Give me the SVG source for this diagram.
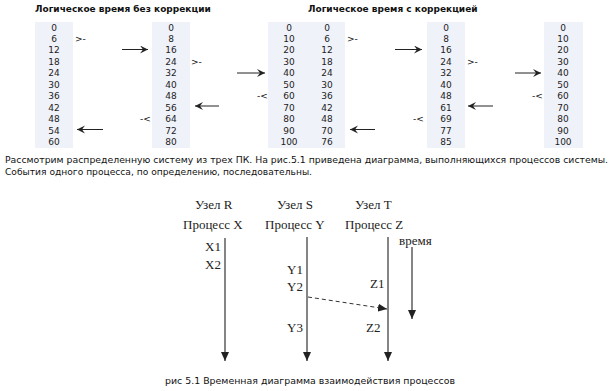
<svg xmlns="http://www.w3.org/2000/svg" width="615" height="391" viewBox="0 0 615 391">
<style>
.t{font-family:"DejaVu Sans",Verdana,sans-serif;font-size:9px;fill:#111}
.b{font-weight:bold}
.n{font-family:"DejaVu Sans",Verdana,sans-serif;font-size:9px;fill:#222;text-anchor:middle}
.m{font-family:"DejaVu Sans",Verdana,sans-serif;font-size:9px;fill:#111}
.s{font-family:"Liberation Serif","Times New Roman",serif;font-size:13px;fill:#222}
.col{fill:#f0f2fa}
.ar{stroke:#222;stroke-width:1;fill:none}
.ln{stroke:#333;stroke-width:1.2;fill:none}
</style>
<defs>
<marker id="ch" markerWidth="9" markerHeight="9" refX="8" refY="4" orient="auto" markerUnits="userSpaceOnUse">
<path d="M0,0 L8,4 L0,8 L3,4 z" fill="#222"/>
</marker>
<marker id="tri" markerWidth="10" markerHeight="8" refX="9" refY="4" orient="auto" markerUnits="userSpaceOnUse">
<path d="M0,0 L9,4 L0,8 z" fill="#222"/>
</marker>
</defs>

<g id="table-left">
<text class="t b" x="35" y="12">Логическое время без коррекции</text>
<rect class="col" x="35" y="22" width="38" height="126"/>
<rect class="col" x="152" y="22" width="38" height="126"/>
<g class="n">
<text x="54" y="30.5">0</text><text x="54" y="42">6</text><text x="54" y="53.4">12</text><text x="54" y="64.9">18</text><text x="54" y="76.3">24</text><text x="54" y="87.8">30</text><text x="54" y="99.2">36</text><text x="54" y="110.7">42</text><text x="54" y="122.1">48</text><text x="54" y="133.6">54</text><text x="54" y="145">60</text>
<text x="171" y="30.5">0</text><text x="171" y="42">8</text><text x="171" y="53.4">16</text><text x="171" y="64.9">24</text><text x="171" y="76.3">32</text><text x="171" y="87.8">40</text><text x="171" y="99.2">48</text><text x="171" y="110.7">56</text><text x="171" y="122.1">64</text><text x="171" y="133.6">72</text><text x="171" y="145">80</text>
</g>
</g>

<g id="table-right">
<text class="t b" x="308" y="12">Логическое время с коррекцией</text>
<rect class="col" x="268" y="22" width="77" height="126"/>
<rect class="col" x="427" y="22" width="38" height="126"/>
<rect class="col" x="544" y="22" width="39" height="126"/>
<g class="n">
<text x="289" y="30.5">0</text><text x="289" y="42">10</text><text x="289" y="53.4">20</text><text x="289" y="64.9">30</text><text x="289" y="76.3">40</text><text x="289" y="87.8">50</text><text x="289" y="99.2">60</text><text x="289" y="110.7">70</text><text x="289" y="122.1">80</text><text x="289" y="133.6">90</text><text x="289" y="145">100</text>
<text x="327" y="30.5">0</text><text x="327" y="42">6</text><text x="327" y="53.4">12</text><text x="327" y="64.9">18</text><text x="327" y="76.3">24</text><text x="327" y="87.8">30</text><text x="327" y="99.2">36</text><text x="327" y="110.7">42</text><text x="327" y="122.1">48</text><text x="327" y="133.6">70</text><text x="327" y="145">76</text>
<text x="446" y="30.5">0</text><text x="446" y="42">8</text><text x="446" y="53.4">16</text><text x="446" y="64.9">24</text><text x="446" y="76.3">32</text><text x="446" y="87.8">40</text><text x="446" y="99.2">48</text><text x="446" y="110.7">61</text><text x="446" y="122.1">69</text><text x="446" y="133.6">77</text><text x="446" y="145">85</text>
<text x="563" y="30.5">0</text><text x="563" y="42">10</text><text x="563" y="53.4">20</text><text x="563" y="64.9">30</text><text x="563" y="76.3">40</text><text x="563" y="87.8">50</text><text x="563" y="99.2">60</text><text x="563" y="110.7">70</text><text x="563" y="122.1">80</text><text x="563" y="133.6">90</text><text x="563" y="145">100</text>
</g>
</g>

<g id="table-marks" class="m">
<text x="75" y="42">&gt;-</text>
<text x="191" y="64.9">&gt;-</text>
<text x="140" y="122.1">-&lt;</text>
<text x="347" y="42">&gt;-</text>
<text x="257" y="99.2">-&lt;</text>
<text x="467" y="64.9">&gt;-</text>
<text x="413" y="122.1">-&lt;</text>
<text x="532" y="99.2">-&lt;</text>
</g>

<g id="table-arrows" class="ar">
<line x1="122" y1="49.5" x2="148" y2="49.5" marker-end="url(#ch)"/>
<line x1="219" y1="106" x2="195" y2="106" marker-end="url(#ch)"/>
<line x1="103" y1="129.5" x2="77" y2="129.5" marker-end="url(#ch)"/>
<line x1="237" y1="73" x2="265" y2="73" marker-end="url(#ch)"/>
<line x1="375" y1="129.5" x2="350" y2="129.5" marker-end="url(#ch)"/>
<line x1="395" y1="49.5" x2="422" y2="49.5" marker-end="url(#ch)"/>
<line x1="493" y1="106" x2="468" y2="106" marker-end="url(#ch)"/>
<line x1="515" y1="73" x2="541" y2="73" marker-end="url(#ch)"/>
</g>

<g id="paragraph">
<text class="t" x="5" y="163" textLength="603" lengthAdjust="spacingAndGlyphs">Рассмотрим распределенную систему из трех ПК. На рис.5.1 приведена диаграмма, выполняющихся процессов системы.</text>
<text class="t" x="5" y="175" textLength="307" lengthAdjust="spacingAndGlyphs">События одного процесса, по определению, последовательны.</text>
</g>

<g id="node-R">
<text class="s" x="195" y="209">Узел R</text>
<text class="s" x="183" y="229">Процесс X</text>
<text class="s" x="205" y="251">X1</text>
<text class="s" x="205" y="269">X2</text>
</g>
<g id="node-S">
<text class="s" x="277" y="209">Узел S</text>
<text class="s" x="265" y="229">Процесс Y</text>
<text class="s" x="287" y="274">Y1</text>
<text class="s" x="287" y="291">Y2</text>
<text class="s" x="287" y="332">Y3</text>
</g>
<g id="node-T">
<text class="s" x="355" y="209">Узел T</text>
<text class="s" x="345" y="229">Процесс Z</text>
<text class="s" x="370" y="288">Z1</text>
<text class="s" x="366" y="332">Z2</text>
</g>
<g id="time">
<text class="s" x="399" y="245">время</text>
</g>

<g id="connectors">
<line class="ln" x1="225" y1="238" x2="225" y2="361" marker-end="url(#tri)"/>
<line class="ln" x1="307" y1="237" x2="307" y2="361" marker-end="url(#tri)"/>
<line class="ln" x1="388" y1="237" x2="388" y2="361" marker-end="url(#tri)"/>
<line class="ln" x1="412" y1="247" x2="412" y2="319" marker-end="url(#tri)"/>
<line x1="308" y1="297" x2="387" y2="309" stroke="#333" stroke-width="1" stroke-dasharray="4,3" marker-end="url(#tri)"/>
</g>

<g id="caption">
<text class="t" x="165" y="384" textLength="290" lengthAdjust="spacingAndGlyphs">рис 5.1 Временная диаграмма взаимодействия процессов</text>
</g>
</svg>
